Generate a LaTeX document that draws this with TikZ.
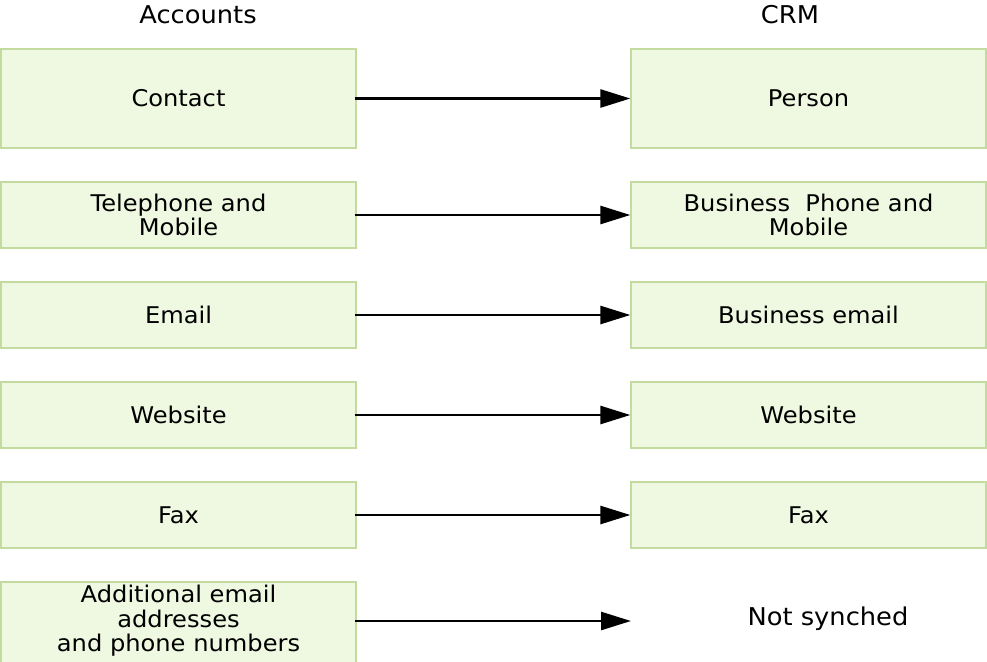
\documentclass[tikz,border=0pt]{standalone}
\usepackage{fontspec}
\setmainfont{DejaVu Sans}[FakeStretch=1.05]
\usetikzlibrary{arrows.meta}
\definecolor{boxfill}{HTML}{EFF8E0}
\definecolor{boxline}{HTML}{C4DBA0}
\begin{document}
\begin{tikzpicture}[x=1pt,y=-1pt,
  field/.style={draw=boxline,fill=boxfill,line width=1.3pt,
    minimum width=355pt,inner sep=0pt,align=center,
    font=\fontsize{23}{24.5}\selectfont},
  title/.style={font=\fontsize{24.5}{28}\selectfont},
  maps/.style={line width=2.6pt,-{Triangle[length=30pt,width=18pt]}}]
\useasboundingbox (0,0) rectangle (987,661);
\begin{scope}
\clip (0,0) rectangle (987,661);
% column headings
\node[title] (hacc) at (198,15) {Accounts};
\node[title] (hcrm) at (790,15) {CRM};
% Accounts fields
\node[field,minimum height=99pt] (l1) at (178.5,98.5) {Contact};
\node[field,minimum height=66pt] (l2) at (178.5,215) {Telephone and\\Mobile};
\node[field,minimum height=66pt] (l3) at (178.5,315) {Email};
\node[field,minimum height=66pt] (l4) at (178.5,415) {Website};
\node[field,minimum height=66pt] (l5) at (178.5,515) {Fax};
\node[field,minimum height=99pt,text depth=0pt] (l6) at (178.5,631.5) {};
\node[font=\fontsize{23}{24.5}\selectfont,align=center] (l6t) at (178.5,621) {Additional email\\addresses\\and phone numbers};
% CRM fields
\node[field,minimum height=99pt] (r1) at (808.5,98.5) {Person};
\node[field,minimum height=66pt] (r2) at (808.5,215) {Business~ Phone and\\Mobile};
\node[field,minimum height=66pt] (r3) at (808.5,315) {Business email};
\node[field,minimum height=66pt] (r4) at (808.5,415) {Website};
\node[field,minimum height=66pt] (r5) at (808.5,515) {Fax};
\node[font=\fontsize{24.5}{28}\selectfont] (r6) at (828,618.5) {Not synched};
\coordinate (r6in) at (631,621);
% mappings
\draw[maps] ([xshift=-2pt]l1.east) -- (r1.west);
\draw[maps] ([xshift=-2pt]l2.east) -- (r2.west);
\draw[maps] ([xshift=-2pt]l3.east) -- (r3.west);
\draw[maps] ([xshift=-2pt]l4.east) -- (r4.west);
\draw[maps] ([xshift=-2pt]l5.east) -- (r5.west);
\draw[maps] (l6.east |- r6in) ++(-2,0) -- (r6in);
\end{scope}
\end{tikzpicture}
\end{document}
